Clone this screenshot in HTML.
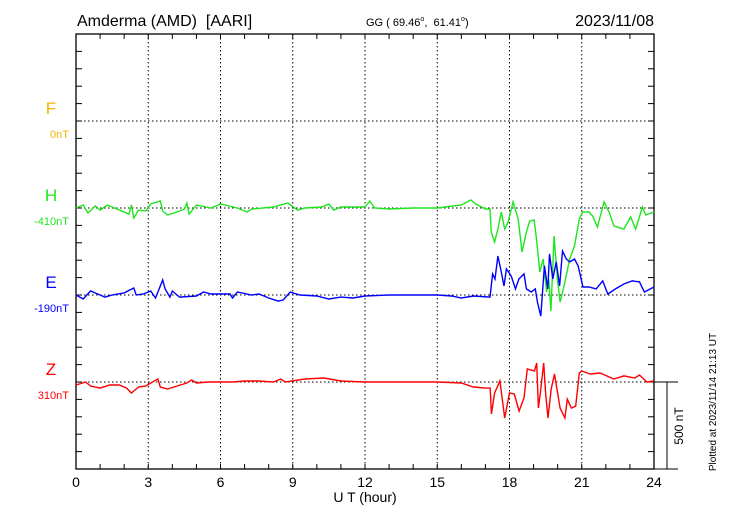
<!DOCTYPE html>
<html><head><meta charset="utf-8">
<style>
body{margin:0;background:#fff;}
svg{display:block;font-family:"Liberation Sans",sans-serif;}
</style></head>
<body>
<svg id="chart" width="730" height="520" viewBox="0 0 730 520" xmlns="http://www.w3.org/2000/svg">
<text x="77" y="26" font-size="16">Amderma (AMD)&#160; [AARI]</text>
<text x="366" y="26" font-size="11">GG ( 69.46<tspan dy="-5" font-size="7">o</tspan><tspan dy="5">,&#160; 61.41</tspan><tspan dy="-5" font-size="7">o</tspan><tspan dy="5">)</tspan></text>
<text x="654" y="26" font-size="16" text-anchor="end">2023/11/08</text>
<g id="grid"></g>
<g id="series"></g>
<g id="labels"></g>
</svg>
<script>
const hoursTicks=[0,3,6,9,12,15,18,21,24];
const compNames=['F','H','E','Z'];
const compColors=['#f5b400','#1ee61e','#0000ff','#ff0000'];
const compOffsets=['0nT','-410nT','-190nT','310nT'];
const hT=[0,0.3,0.5,0.8,1,1.3,1.7,2.2,2.3,2.4,2.6,2.9,3.1,3.5,3.6,3.8,4.2,4.5,4.6,4.7,5,5.6,6,6.7,7.1,7.3,8.2,8.8,9.2,9.5,10.2,10.5,10.7,11,12,12.2,12.4,13,14,15,16,16.4,16.6,17,17.19,17.24,17.38,17.52,17.66,17.8,17.94,18.15,18.36,18.52,18.7,18.84,19.02,19.12,19.26,19.4,19.54,19.63,19.72,19.85,19.99,20.1,20.3,20.5,20.7,20.9,21.04,21.3,21.45,21.65,21.93,22.13,22.34,22.75,23.03,23.24,23.52,23.66,24];
const hV=[0,17,-29,12,-12,17,-6,-35,17,-58,-12,-17,23,40,-17,-40,-23,-6,29,-35,17,0,23,0,-23,-6,6,29,-12,0,6,23,-12,6,6,40,0,-6,0,0,17,46,23,-6,-6,-138,-196,-121,-23,-121,-81,35,-63,-253,-138,-75,-69,-178,-368,-293,-483,-408,-592,-161,-408,-541,-426,-293,-219,-63,-23,-23,-46,-109,35,-23,-104,-121,-52,-121,6,-40,-23];
const eT=[0,0.3,0.6,1,1.2,1.5,2,2.4,2.5,2.8,3.1,3.3,3.6,3.7,3.9,4,4.3,5,5.3,5.6,6,6.4,6.5,6.7,7.3,7.6,8,8.4,8.6,8.9,9,9.3,10,10.5,11,11.5,12,13,14,15,15.6,16,16.5,17.19,17.3,17.4,17.52,17.66,17.77,17.87,18.07,18.25,18.39,18.6,18.7,18.9,19.07,19.16,19.3,19.45,19.59,19.66,19.8,19.94,20.08,20.2,20.36,20.5,20.7,20.85,21.05,21.3,21.6,21.87,22.08,22.4,22.75,23.1,23.4,23.6,24];
const eV=[0,-23,23,0,-12,0,12,40,0,6,23,-17,86,35,-12,23,-12,-6,17,6,6,6,-17,17,0,6,-17,-35,-29,17,12,0,-6,-23,-12,-17,-6,0,0,0,-6,-17,-6,-12,121,92,224,132,52,150,109,35,92,121,35,17,35,-40,-121,167,35,236,92,190,52,253,207,190,207,167,46,46,35,81,6,35,63,81,75,17,46];
const zT=[0,0.4,0.6,1,1.4,1.8,2.1,2.3,2.6,2.9,3.1,3.4,3.5,3.8,4.2,4.6,4.8,5,5.5,6.5,7,7.6,8.2,8.5,8.7,9.5,10.3,11,12,13,14,15,16,16.5,17,17.2,17.25,17.38,17.6,17.8,18,18.2,18.4,18.6,18.74,19.04,19.13,19.2,19.3,19.42,19.5,19.6,19.73,19.87,20.1,20.3,20.4,20.57,20.75,20.9,21,21.35,21.76,22.33,22.75,23.2,23.4,23.7,24];
const zV=[-17,0,-23,-35,-17,-17,-35,-63,-29,-23,-6,17,-29,-40,-23,-6,12,-6,0,0,6,6,0,17,0,17,23,6,0,0,0,0,-6,-29,-35,-35,-184,-63,6,-207,-63,-69,-167,-92,75,63,109,-150,-40,109,-63,-207,-40,46,-150,-207,-98,-150,-138,52,63,46,52,17,35,23,40,0,6];
const L=76,R=654,T=34,B=469,U=17.4,nTpx=87/500;
const bases=[T+5*U,T+10*U,T+15*U,T+20*U];
const xs=h=>L+h*(R-L)/24;
const ys=(i,v)=>bases[i]-v*nTpx;
const NS='http://www.w3.org/2000/svg';
function mk(tag,attrs,parent){const e=document.createElementNS(NS,tag);for(const k in attrs)e.setAttribute(k,attrs[k]);parent.appendChild(e);return e;}
const grid=document.getElementById('grid');
for(const h of hoursTicks){if(h>0&&h<24){const l=mk('line',{x1:xs(h),x2:xs(h),y1:T,y2:B,stroke:'#000','stroke-dasharray':'1.5,2.5','stroke-width':1},grid);

}
const t=mk('text',{x:xs(h),y:487,'font-size':14,'text-anchor':'middle'},document.getElementById('labels'));t.textContent=h;

}
for(let h=0;h<=24;h++){mk('line',{x1:xs(h),x2:xs(h),y1:T,y2:T+5,stroke:'#000'},grid);mk('line',{x1:xs(h),x2:xs(h),y1:B,y2:B-5,stroke:'#000'},grid);}
for(let k=1;k<25;k++){const y=T+k*U;mk('line',{x1:L,x2:L+6,y1:y,y2:y,stroke:'#000'},grid);mk('line',{x1:R,x2:R-6,y1:y,y2:y,stroke:'#000'},grid);}
bases.forEach((b,i)=>{const l=mk('line',{x1:L,x2:R,y1:b,y2:b,stroke:'#000','stroke-dasharray':'1.5,2.5'},grid);

});
const frame=mk('rect',{x:L,y:T,width:R-L,height:B-T,fill:'none',stroke:'#000','stroke-width':1.3},grid);


mk('line',{x1:R,x2:678,y1:bases[3],y2:bases[3],stroke:'#000'},grid);
mk('line',{x1:R,x2:678,y1:B,y2:B,stroke:'#000'},grid);
const sb=mk('line',{x1:667,x2:667,y1:bases[3],y2:B,stroke:'#000'},grid);


const ser=document.getElementById('series');
[[hT,hV,1],[eT,eV,2],[zT,zV,3]].forEach(([t,v,i])=>{
const d=t.map((h,j)=>(j?'L':'M')+xs(h).toFixed(1)+' '+ys(i,v[j]).toFixed(1)).join(' ');
const p=mk('path',{d:d,fill:'none',stroke:compColors[i],'stroke-width':1.4},ser);

});
const lab=document.getElementById('labels');
bases.forEach((b,i)=>{
const a=mk('text',{x:51,y:b-7,'font-size':17,fill:compColors[i],'text-anchor':'middle'},lab);a.textContent=compNames[i];


const o=mk('text',{x:69,y:b+17,'font-size':11,fill:compColors[i],'text-anchor':'end'},lab);o.textContent=compOffsets[i];

});
const xt=mk('text',{x:365,y:502,'font-size':14,'text-anchor':'middle'},lab);xt.textContent='U T (hour)';


const st=mk('text',{x:0,y:0,'font-size':12,'text-anchor':'middle',transform:'translate(683,426) rotate(-90)'},lab);st.textContent='500 nT';


const pt=mk('text',{x:0,y:0,'font-size':10,'text-anchor':'middle',transform:'translate(716,402) rotate(-90)'},lab);pt.textContent='Plotted at 2023/11/14 21:13 UT';


</script>
</body></html>
